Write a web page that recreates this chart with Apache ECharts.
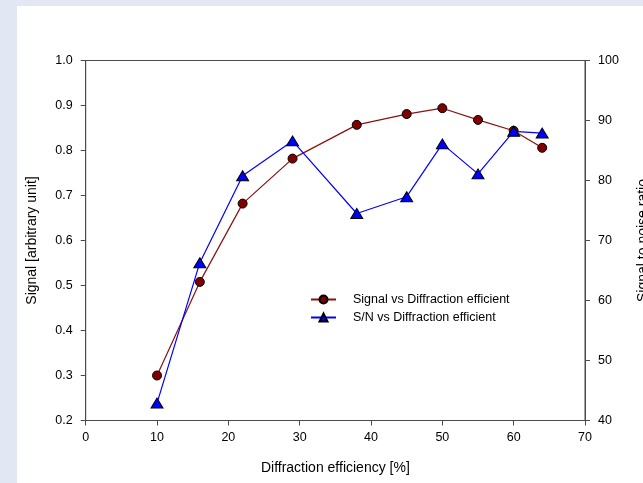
<!DOCTYPE html>
<html>
<head>
<meta charset="utf-8">
<script src="https://cdn.jsdelivr.net/npm/echarts@6/dist/echarts.min.js"></script>
<style>
  html, body { margin: 0; padding: 0; background: #e1e8f3; overflow: hidden; }
  #chart { width: 643px; height: 483px; }
</style>
</head>
<body>
<div id="chart"></div>
<script>
// Diffraction efficiency (%) at each measurement
const efficiency = [10, 16, 22, 29, 38, 45, 50, 55, 60, 64];
// Signal amplitude (arbitrary units)
const signal = [0.300, 0.508, 0.682, 0.782, 0.857, 0.881, 0.894, 0.868, 0.844, 0.806];
// Signal-to-noise ratio
const snr = [42.9, 66.3, 80.8, 86.6, 74.5, 77.3, 86.1, 81.1, 88.2, 87.9];

const xTicks = [0, 10, 20, 30, 40, 50, 60, 70];
const signalSeriesName = 'Signal vs Diffraction efficient';
const snrSeriesName = 'S/N vs Diffraction efficient';

const pairs = (xs, ys) => xs.map((x, i) => [x, ys[i]]);

const FONT = '"Liberation Sans", Arial, sans-serif';
const AXIS = '#4a4a4a';

const chart = echarts.init(document.getElementById('chart'), null, { renderer: 'canvas' });

chart.setOption({
  backgroundColor: '#e1e8f3',
  animation: false,
  textStyle: { fontFamily: FONT },
  graphic: [{
    type: 'rect',
    z: -10,
    silent: true,
    shape: { x: 17, y: 6, width: 626, height: 477 },
    style: { fill: '#ffffff' }
  }],
  grid: {
    left: 85.7, right: 58, top: 60.5, bottom: 62.5,
    outerBoundsMode: 'none',
    containLabel: false,
    show: true, borderColor: AXIS, borderWidth: 1, backgroundColor: 'transparent'
  },
  legend: {
    orient: 'vertical',
    left: 305, top: 288,
    itemWidth: 25, itemHeight: 10, itemGap: 5,
    textStyle: { fontFamily: FONT, fontSize: 12.5, color: '#000', padding: [0, 0, 0, 12] },
    data: [signalSeriesName, snrSeriesName]
  },
  xAxis: {
    type: 'value',
    min: 0, max: 70, interval: 10,
    name: 'Diffraction efficiency [%]',
    nameLocation: 'middle', nameGap: 41,
    nameTextStyle: { fontFamily: FONT, fontSize: 14, color: '#000' },
    axisLine: { show: true, lineStyle: { color: AXIS, width: 1 } },
    axisTick: { show: true, inside: false, length: 5, lineStyle: { color: AXIS } },
    axisLabel: {
      fontFamily: FONT, fontSize: 12.5, color: '#000', margin: 11,
      formatter: v => xTicks.includes(v) ? String(v) : ''
    },
    splitLine: { show: false }
  },
  yAxis: [{
    type: 'value',
    position: 'left',
    min: 0.2, max: 1.0, interval: 0.1,
    name: 'Signal [arbitrary unit]',
    nameLocation: 'middle', nameGap: 47, nameRotate: 90,
    nameTextStyle: { fontFamily: FONT, fontSize: 14, color: '#000' },
    axisLine: { show: true, lineStyle: { color: AXIS, width: 1 } },
    axisTick: { show: true, inside: false, length: 5, lineStyle: { color: AXIS } },
    axisLabel: { fontFamily: FONT, fontSize: 12.5, color: '#000', margin: 13, formatter: v => v.toFixed(1) },
    splitLine: { show: false }
  }, {
    type: 'value',
    position: 'right',
    min: 40, max: 100, interval: 10,
    name: 'Signal to noise ratio',
    nameLocation: 'middle', nameGap: 51, nameRotate: 90,
    nameTextStyle: { fontFamily: FONT, fontSize: 14, color: '#000' },
    axisLine: { show: true, lineStyle: { color: AXIS, width: 1 } },
    axisTick: { show: true, inside: false, length: 5, lineStyle: { color: AXIS } },
    axisLabel: { fontFamily: FONT, fontSize: 12.5, color: '#000', margin: 13 },
    splitLine: { show: false }
  }],
  series: [{
    name: signalSeriesName,
    type: 'line',
    yAxisIndex: 0,
    data: pairs(efficiency, signal),
    symbol: 'circle',
    symbolSize: 9,
    lineStyle: { color: '#8b1010', width: 1.2 },
    itemStyle: { color: '#800000', borderColor: '#000', borderWidth: 1 },
    z: 3
  }, {
    name: snrSeriesName,
    type: 'line',
    yAxisIndex: 1,
    data: pairs(efficiency, snr),
    symbol: 'triangle',
    symbolSize: [12, 10],
    lineStyle: { color: '#0000ff', width: 1.2 },
    itemStyle: { color: '#0000ff', borderColor: '#000', borderWidth: 1 },
    z: 4
  }]
});
</script>
</body>
</html>
